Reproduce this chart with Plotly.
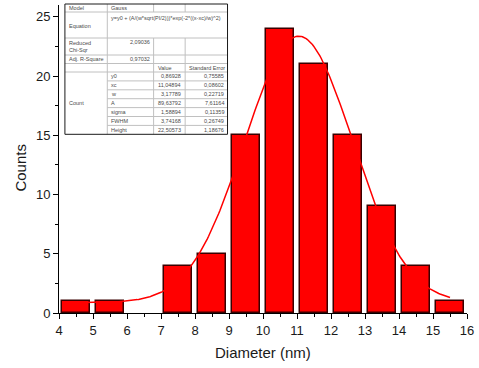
import numpy as np
import plotly.graph_objects as go

# Histogram of particle diameters
diameter_nm = [4.5, 5.5, 7.5, 8.5, 9.5, 10.5, 11.5, 12.5, 13.5, 14.5, 15.5]
counts = [1, 1, 4, 5, 15, 24, 21, 15, 9, 4, 1]

# Gauss fit report
fit_names = ["y0", "xc", "w", "A", "sigma", "FWHM", "Height"]
fit_values = [0.86928, 11.04894, 3.17789, 89.63792, 1.58894, 3.74168, 22.50573]
fit_errors = [0.75585, 0.08602, 0.22719, 7.61164, 0.11359, 0.26749, 1.18676]
reduced_chi_sqr = 2.09036
adj_r_square = 0.97032
equation = "y=y0 + (A/(w*sqrt(PI/2)))*exp(-2*((x-xc)/w)^2)"

x_ticks = list(range(4, 17))
y_ticks = [0, 5, 10, 15, 20, 25]

FONT = "Arial, Liberation Sans, sans-serif"
W, H = 479, 368
L, R, T, B = 59, 6, 5, 55
PW, PH = W - L - R, H - T - B


def px(x):
    return (x - L) / PW


def py(y):
    return (H - B - y) / PH


def num(v):
    return f"{v:.5f}".replace(".", ",")


# fitted curve evaluated from the reported parameters
p = dict(zip(fit_names, fit_values))
x_fit = np.linspace(diameter_nm[0], diameter_nm[-1], 300)
y_fit = p["y0"] + p["A"] / (p["w"] * np.sqrt(np.pi / 2)) * np.exp(-2 * ((x_fit - p["xc"]) / p["w"]) ** 2)

fig = go.Figure()
fig.add_trace(go.Bar(
    x=diameter_nm, y=counts, width=0.8,
    marker=dict(color="#ff0000", line=dict(color="#3a0000", width=1.5)),
    showlegend=False,
))
fig.add_trace(go.Scatter(
    x=x_fit, y=y_fit, mode="lines",
    line=dict(color="#ff0000", width=1.5),
    showlegend=False,
))

# --- fit report table drawn with shapes and text ---
cols = [65, 108, 155, 187, 230]
rows = [4, 12, 38, 55, 63.5, 72]
prow_h = (134.3 - 72) / len(fit_names)
prows = [72 + i * prow_h for i in range(len(fit_names) + 1)]
top, bottom = rows[0], prows[-1]

shapes = []
grid = dict(color="#c0c0c0", width=1)


def hline(y, x0, x1, line=grid):
    shapes.append(dict(type="line", xref="paper", yref="paper",
                       x0=px(x0), x1=px(x1), y0=py(y), y1=py(y), line=line))


def vline(x, y0, y1, line=grid):
    shapes.append(dict(type="line", xref="paper", yref="paper",
                       x0=px(x), x1=px(x), y0=py(y0), y1=py(y1), line=line))


shapes.append(dict(type="rect", xref="paper", yref="paper", layer="below",
                   x0=px(cols[0]), x1=px(cols[-1]), y0=py(bottom), y1=py(top),
                   fillcolor="white", line=dict(width=0)))
for y in rows[1:]:
    hline(y, cols[0], cols[-1])
for y in prows[1:-1]:
    hline(y, cols[1], cols[-1])
vline(cols[1], top, bottom)
for x in cols[2:4]:
    vline(x, top, rows[1])
    vline(x, rows[2], bottom)
shapes.append(dict(type="rect", xref="paper", yref="paper",
                   x0=px(cols[0]), x1=px(cols[-1]), y0=py(bottom), y1=py(top),
                   line=dict(color="#1a1a1a", width=1)))

ann = []
tfont = dict(family=FONT, size=5.5, color="#4a4a4a")


def text(s, x, y, anchor="left", yanchor="middle"):
    ann.append(dict(text=s, xref="paper", yref="paper", x=px(x), y=py(y),
                    xanchor=anchor, yanchor=yanchor, showarrow=False, font=tfont))


def mid(a, b):
    return (a + b) / 2


text("Model", cols[0] + 2, mid(rows[0], rows[1]))
text("Gauss", cols[1] + 2, mid(rows[0], rows[1]))
text("Equation", cols[0] + 2, 26)
text(equation, cols[1] + 2, rows[1] + 1, yanchor="top")
text("Reduced", cols[0] + 2, 43.3)
text("Chi-Sqr", cols[0] + 2, 50.5)
text(num(reduced_chi_sqr), cols[2] - 2, 42, anchor="right")
text("Adj. R-Square", cols[0] + 2, mid(rows[3], rows[4]))
text(num(adj_r_square), cols[2] - 2, mid(rows[3], rows[4]), anchor="right")
text("Value", cols[2] + 2, mid(rows[4], rows[5]))
text("Standard Error", cols[3] + 2, mid(rows[4], rows[5]))
text("Count", cols[0] + 2, mid(prows[0], prows[-1]))
for i, name in enumerate(fit_names):
    yc = mid(prows[i], prows[i + 1])
    text(name, cols[1] + 2, yc)
    text(num(fit_values[i]), cols[3] - 2, yc, anchor="right")
    text(num(fit_errors[i]), cols[4] - 2, yc, anchor="right")

# axis titles
ann.append(dict(text="Diameter (nm)", xref="paper", yref="paper",
                x=px(266), y=py(352), xanchor="center", yanchor="middle",
                showarrow=False, font=dict(family=FONT, size=15, color="#1a1a1a")))
ann.append(dict(text="Counts", xref="paper", yref="paper",
                x=px(19), y=py(168), xanchor="center", yanchor="middle", textangle=-90,
                showarrow=False, font=dict(family=FONT, size=15, color="#1a1a1a")))

axis_common = dict(
    showline=True, linecolor="black", linewidth=1, mirror=False,
    ticks="outside", ticklen=5, tickwidth=1, tickcolor="black",
    showgrid=False, zeroline=False, ticklabeloverflow="allow",
    tickfont=dict(family=FONT, size=13, color="#1a1a1a"),
)

fig.update_layout(
    width=W, height=H,
    margin=dict(l=L, r=R, t=T, b=B),
    paper_bgcolor="white", plot_bgcolor="white",
    bargap=0,
    xaxis=dict(range=[4, 16], tickmode="array", tickvals=x_ticks,
               minor=dict(dtick=0.5, ticks="outside", ticklen=3, tickcolor="black"),
               **axis_common),
    yaxis=dict(range=[0, 26], tickmode="array", tickvals=y_ticks,
               minor=dict(dtick=2.5, ticks="outside", ticklen=3, tickcolor="black"),
               **axis_common),
    shapes=shapes,
    annotations=ann,
)

fig.write_html("out.html")
